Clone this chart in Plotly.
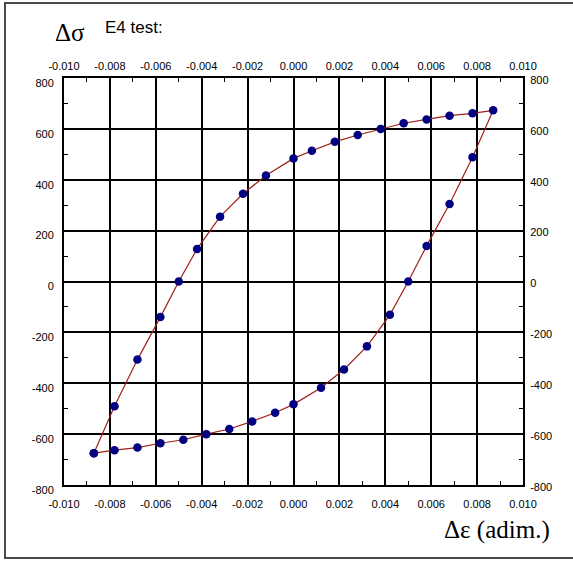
import plotly.graph_objects as go

# Hysteresis loop data (strain, stress)
strain = [-0.0087, -0.0078, -0.0068, -0.0058, -0.0050, -0.0042, -0.0032, -0.0022, -0.0012,
          0.0000, 0.0008, 0.0018, 0.0028, 0.0038, 0.0048, 0.0058, 0.0068, 0.0078, 0.0087,
          0.0078, 0.0068, 0.0058, 0.0050, 0.0042, 0.0032, 0.0022, 0.0012,
          0.0000, -0.0008, -0.0018, -0.0028, -0.0038, -0.0048, -0.0058, -0.0068, -0.0078, -0.0087]
stress = [-675, -490, -307, -140, 0, 128, 255, 345, 417,
          484, 514, 549, 576, 600, 622, 637, 652, 661, 673,
          488, 305, 140, 0, -131, -255, -346, -418,
          -483, -516, -550, -580, -600, -622, -636, -653, -663, -675]

x_ticks = [-0.010, -0.008, -0.006, -0.004, -0.002, 0.0, 0.002, 0.004, 0.006, 0.008, 0.010]
x_labels = ["-0.010", "-0.008", "-0.006", "-0.004", "-0.002", "0.000",
            "0.002", "0.004", "0.006", "0.008", "0.010"]
y_ticks = [-800, -600, -400, -200, 0, 200, 400, 600, 800]
y_labels = ["-800", "-600", "-400", "-200", "0", "200", "400", "600", "800"]
x_minor = [-0.009, -0.007, -0.005, -0.003, -0.001, 0.001, 0.003, 0.005, 0.007, 0.009]
y_minor = [-700, -500, -300, -100, 100, 300, 500, 700]

W, H = 573, 563
L, R, T, B = 64, 50, 78, 78
pw, ph = W - L - R, H - T - B


def px(xp):
    return (xp - L) / pw


def py(yp):
    return (H - B - yp) / ph


tick_font = dict(family="Liberation Sans, Arial, sans-serif", size=11, color="black")

fig = go.Figure()
fig.add_trace(go.Scatter(
    x=strain, y=stress, mode="lines+markers",
    line=dict(color="#A0201A", width=1.2),
    marker=dict(color="#000080", size=8.5, line=dict(width=0)),
    showlegend=False, hoverinfo="x+y"))
fig.add_trace(go.Scatter(x=[], y=[], xaxis="x2", yaxis="y2", showlegend=False))

common_x = dict(range=[-0.010, 0.010], tickmode="array", tickvals=x_ticks, ticktext=x_labels,
                showline=True, linecolor="black", linewidth=2, ticks="", tickfont=tick_font,
                minor=dict(ticks="inside", ticklen=4, tickcolor="black", tickwidth=1,
                           tickmode="array", tickvals=x_minor, showgrid=False),
                zeroline=False, fixedrange=True)
common_y = dict(range=[-800, 800], tickmode="array", tickvals=y_ticks, ticktext=y_labels,
                showline=True, linecolor="black", linewidth=2, ticks="", tickfont=tick_font,
                minor=dict(ticks="inside", ticklen=4, tickcolor="black", tickwidth=1,
                           tickmode="array", tickvals=y_minor, showgrid=False),
                zeroline=False, fixedrange=True)

fig.update_layout(
    width=W, height=H,
    margin=dict(l=L, r=R, t=T, b=B),
    paper_bgcolor="white", plot_bgcolor="white",
    xaxis=dict(**common_x, showgrid=True, gridcolor="black", gridwidth=1.7, side="bottom",
               ticklabelstandoff=8),
    yaxis=dict(**common_y, showgrid=True, gridcolor="black", gridwidth=1.7, side="left",
               ticklabelstandoff=6, ticklabelshift=5),
    xaxis2=dict(**common_x, showgrid=False, side="top", overlaying="x", anchor="y",
                ticklabelstandoff=2),
    yaxis2=dict(**common_y, showgrid=False, side="right", overlaying="y", anchor="x",
                ticklabelstandoff=3, ticklabelshift=2),
    showlegend=False,
)

fig.add_annotation(text="Δσ", xref="paper", yref="paper", x=px(70), y=py(33),
                   showarrow=False, xanchor="center", yanchor="middle",
                   font=dict(family="Liberation Serif, Times New Roman, serif", size=25, color="black"))
fig.add_annotation(text="E4 test:", xref="paper", yref="paper", x=px(103), y=py(28),
                   showarrow=False, xanchor="left", yanchor="middle",
                   font=dict(family="Liberation Sans, Arial, sans-serif", size=17, color="black"))
fig.add_annotation(text="Δε (adim.)", xref="paper", yref="paper", x=px(552), y=py(530),
                   showarrow=False, xanchor="right", yanchor="middle",
                   font=dict(family="Liberation Serif, Times New Roman, serif", size=25, color="black"))

# outer frame of the figure
fig.add_shape(type="rect", xref="paper", yref="paper",
              x0=px(5), y0=py(558), x1=px(590), y1=py(3),
              line=dict(color="#4a4a4a", width=2), fillcolor="rgba(0,0,0,0)", layer="above")

fig.write_html("out.html")
